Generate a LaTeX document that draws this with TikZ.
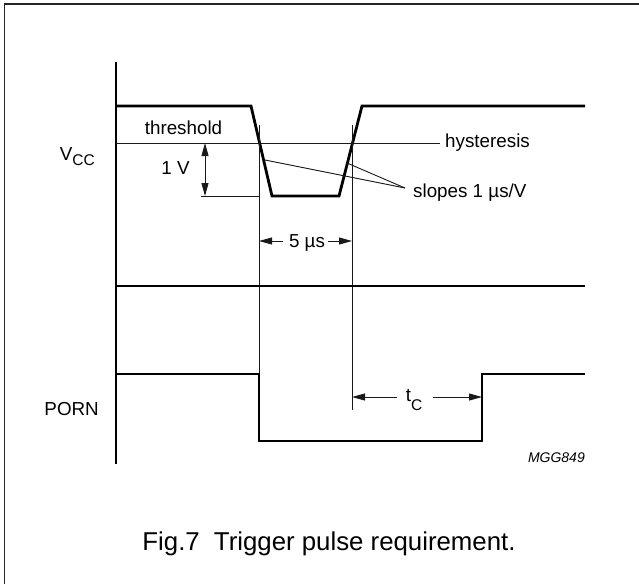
\documentclass[tikz,border=0pt]{standalone}
\usepackage{fontspec}
\setmainfont{Liberation Sans}
\usetikzlibrary{arrows.meta}
\begin{document}
\begin{tikzpicture}[x=1pt,y=-1pt,
  sig/.style={line width=2.8pt, line join=miter},
  thinline/.style={line width=0.9pt, black!90},
  axisline/.style={line width=1.4pt},
  dimtip/.style={thinline, arrows={-Triangle[length=13pt,width=7pt]}},
  lbl/.style={font=\fontsize{18.8}{20}\selectfont, inner sep=0pt},
]
\useasboundingbox (0,0) rectangle (639,584);
% frame (left and top edges visible)
\draw[line width=1.7pt, black!85] (4.5,584) -- (4.5,4) -- (639,4);
% time axis
\coordinate (axT) at (116,62);
\coordinate (axB) at (116,464);
\draw[axisline] (axT) -- (axB);
% VCC signal
\coordinate (v0) at (116,106);
\coordinate (v1) at (251,106);
\coordinate (v2) at (272,196);
\coordinate (v3) at (339,196);
\coordinate (v4) at (362,106);
\coordinate (v5) at (585,106);
\draw[sig] (v0) -- (v1) -- (v2) -- (v3) -- (v4) -- (v5);
% threshold line
\coordinate (th0) at (116,143);
\coordinate (th1) at (440,143);
\draw[thinline] (th0) -- (th1);
% 1 V reference line
\coordinate (lo0) at (201,196);
\coordinate (lo1) at (259,196);
\draw[thinline] (lo0) -- (lo1);
% vertical markers
\coordinate (m1t) at (259,125);
\coordinate (m1b) at (259,374);
\coordinate (m2t) at (352,125);
\coordinate (m2b) at (352,410);
\draw[thinline] (m1t) -- (m1b);
\draw[thinline] (m2t) -- (m2b);
% 1 V double arrow
\coordinate (a1t) at (205,143);
\coordinate (a1b) at (205,196);
\coordinate (a1m) at (205,170);
\draw[dimtip] (a1m) -- (a1t);
\draw[dimtip] (a1m) -- (a1b);
% slope pointer lines
\coordinate (sp) at (405,188);
\coordinate (sf) at (265,160);
\coordinate (sr) at (347,163);
\draw[thinline] (sf) -- (sp);
\draw[thinline] (sr) -- (sp);
% second signal
\coordinate (mid0) at (116,286);
\coordinate (mid1) at (585,286);
\draw[sig] (mid0) -- (mid1);
% 5 us arrows
\coordinate (f1) at (283,241);
\coordinate (f2) at (328,241);
\coordinate (f1t) at (259,241);
\coordinate (f2t) at (352,241);
\draw[dimtip] (f1) -- (f1t);
\draw[dimtip] (f2) -- (f2t);
% PORN signal
\coordinate (p0) at (116,374);
\coordinate (p1) at (259,374);
\coordinate (p2) at (259,441);
\coordinate (p3) at (482,441);
\coordinate (p4) at (482,374);
\coordinate (p5) at (585,374);
\draw[sig] (p0) -- (p1) -- (p2) -- (p3) -- (p4) -- (p5);
% tC arrows
\coordinate (c1) at (397,397);
\coordinate (c2) at (433,397);
\coordinate (c1t) at (352,397);
\coordinate (c2t) at (482,397);
\draw[dimtip] (c1) -- (c1t);
\draw[dimtip] (c2) -- (c2t);
% labels
\node[lbl, anchor=base] (thr) at (183.5,134) {threshold};
\node[lbl, anchor=base west] (hys) at (445,147) {hysteresis};
\node[lbl, anchor=base] (onev) at (175.5,174) {1 V};
\node[lbl, anchor=base west] (slo) at (413,197) {slopes 1 µs/V};
\node[lbl, anchor=base] (fiveus) at (307,247) {5 µs};
\node[lbl, anchor=base east] (vcc) at (95,160) {V\raisebox{-5pt}{\fontsize{15.5}{16}\selectfont CC}};
\node[lbl, anchor=base east] (porn) at (99,415) {PORN};
\node[lbl, anchor=base] (tc) at (414,401) {t\raisebox{-9pt}{\fontsize{15.5}{16}\selectfont C}};
\node[inner sep=0pt, anchor=base east, font=\fontsize{14}{15}\selectfont\itshape] (mgg) at (585,462) {MGG849};
\node[inner sep=0pt, anchor=base, font=\fontsize{25.8}{28}\selectfont] (cap) at (329,550) {Fig.7\hspace{0.55em}Trigger pulse requirement.};
\end{tikzpicture}
\end{document}
